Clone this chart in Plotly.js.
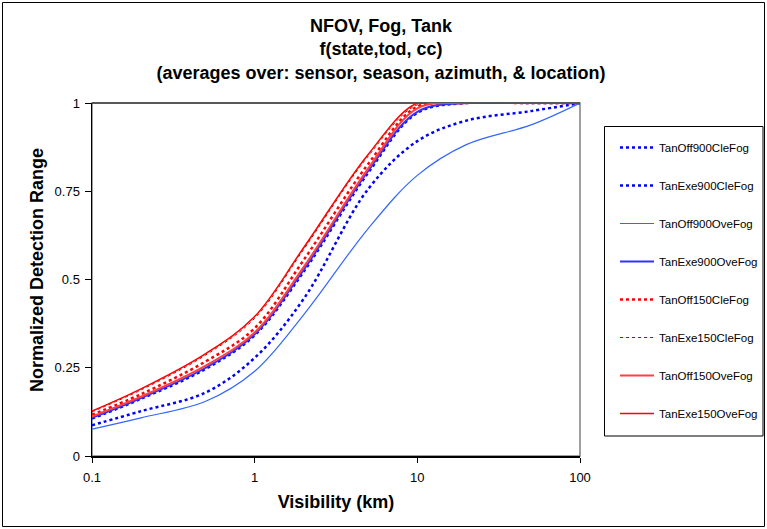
<!DOCTYPE html>
<html>
<head>
<meta charset="utf-8">
<script src="https://cdn.plot.ly/plotly-3.0.1.min.js"></script>
<style>html,body{margin:0;padding:0;background:#fff;}#chart{width:767px;height:529px;}</style>
</head>
<body>
<div id="chart"></div>
<script>
// Visibility (km)
const visibility = [0.1, 0.2, 0.5, 1, 2, 5, 10, 20, 50, 100];

// Normalized detection range per series
const tanOff900CleFog = [0.087, 0.127, 0.180, 0.278, 0.445, 0.757, 0.892, 0.950, 0.977, 1];
const tanExe900CleFog = [0.106, 0.162, 0.247, 0.342, 0.522, 0.803, 0.972, 1, 1, 1];
const tanOff900OveFog = [0.076, 0.108, 0.155, 0.240, 0.400, 0.645, 0.795, 0.882, 0.938, 1];
const tanExe900OveFog = [0.108, 0.164, 0.250, 0.345, 0.527, 0.808, 0.975, 1, 1, 1];
const tanOff150CleFog = [0.117, 0.175, 0.268, 0.362, 0.555, 0.828, 0.990, 1, 1, 1];
const tanExe150CleFog = [0.125, 0.187, 0.286, 0.390, 0.585, 0.850, 0.995, 1, 1, 1];
const tanOff150OveFog = [0.112, 0.168, 0.256, 0.350, 0.535, 0.815, 0.985, 1, 1, 1];
const tanExe150OveFog = [0.127, 0.190, 0.290, 0.395, 0.590, 0.855, 1, 1, 1, 1];

const seriesNames = ["TanOff900CleFog","TanExe900CleFog","TanOff900OveFog","TanExe900OveFog",
                     "TanOff150CleFog","TanExe150CleFog","TanOff150OveFog","TanExe150OveFog"];
const seriesValues = [tanOff900CleFog, tanExe900CleFog, tanOff900OveFog, tanExe900OveFog,
                      tanOff150CleFog, tanExe150CleFog, tanOff150OveFog, tanExe150OveFog];

const xTickVals = [0.1, 1, 10, 100];
const xTickText = ["0.1", "1", "10", "100"];
const yTickVals = [0, 0.25, 0.5, 0.75, 1];
const yTickText = ["0", "0.25", "0.5", "0.75", "1"];

const styles = [
  {color:"#0000FF", width:2.5, dash:"dot"},
  {color:"#0000FF", width:2.5, dash:"dot"},
  {color:"#3366FF", width:1.2, dash:"solid"},
  {color:"#3333FF", width:2, dash:"solid"},
  {color:"#FF0000", width:2.5, dash:"dot"},
  {color:"#C00000", width:1, dash:"3px,3px"},
  {color:"#FF4040", width:2, dash:"solid"},
  {color:"#FF0000", width:1.5, dash:"solid"}
];

const traces = seriesNames.map((name, i) => ({
  type: "scatter",
  mode: "lines",
  name: name,
  legendgroup: "g" + i,
  x: visibility,
  y: seriesValues[i],
  line: Object.assign({shape: "spline", smoothing: 1}, styles[i])
}));

const L = 92, R = 580, T = 103, B = 456, W = 767, H = 529;
const px = p => (p - L) / (R - L);
const py = p => (B - p) / (B - T);
const FONT = "Arial, 'Liberation Sans', sans-serif";

const layout = {
  width: W, height: H,
  margin: {l: L, r: W - R, t: T, b: H - B, pad: 0, autoexpand: false},
  paper_bgcolor: "#ffffff",
  plot_bgcolor: "#ffffff",
  font: {family: FONT, color: "#000", size: 13},
  title: {
    text: "<b>NFOV, Fog, Tank<br>f(state,tod, cc)<br>(averages over: sensor, season, azimuth, & location)</b>",
    font: {size: 18, family: FONT, color: "#000"},
    x: 381 / W, xref: "container", xanchor: "center",
    y: 1 - 32 / H, yref: "container", yanchor: "top"
  },
  xaxis: {
    type: "log",
    range: [-1, 2],
    tickvals: xTickVals, ticktext: xTickText,
    ticks: "outside", ticklen: 5, tickcolor: "#000", tickwidth: 1,
    ticklabelstandoff: 4,
    showline: true, linecolor: "#000", linewidth: 1.5,
    showgrid: false, zeroline: false,
    tickfont: {size: 13},
    title: {text: "<b>Visibility (km)</b>", font: {size: 18}, standoff: 11}
  },
  yaxis: {
    range: [0, 1],
    tickvals: yTickVals, ticktext: yTickText,
    ticks: "outside", ticklen: 6, tickcolor: "#000", tickwidth: 1,
    ticklabelstandoff: 2,
    showline: true, linecolor: "#000", linewidth: 1.5,
    showgrid: false, zeroline: false,
    tickfont: {size: 13}
  },
  annotations: [
    {text: "<b>Normalized Detection Range</b>", xref: "paper", yref: "paper",
     x: px(37), y: py(270), textangle: -90, showarrow: false,
     xanchor: "center", yanchor: "middle", font: {size: 18, family: FONT, color: "#000"}}
  ],
  legend: {
    x: px(615), y: py(133), xanchor: "left", yanchor: "top",
    borderwidth: 0, bgcolor: "rgba(0,0,0,0)",
    font: {size: 11.5},
    itemwidth: 34,
    tracegroupgap: 19
  },
  shapes: [
    {type: "rect", xref: "paper", yref: "paper", x0: 0, x1: 1, y0: 0, y1: 1,
     line: {color: "#808080", width: 1.5}, layer: "below"},
    {type: "line", xref: "paper", yref: "paper", x0: 0, x1: 1, y0: 1, y1: 1,
     line: {color: "#404040", width: 1.5}, layer: "below"},
    {type: "rect", xref: "paper", yref: "paper", x0: px(2.5), x1: px(764.5), y0: py(526.5), y1: py(2.5),
     line: {color: "#000", width: 1}},
    {type: "rect", xref: "paper", yref: "paper", x0: px(604.5), x1: px(763), y0: py(436), y1: py(126.5),
     line: {color: "#000", width: 1}}
  ]
};

Plotly.newPlot("chart", traces, layout, {displayModeBar: false, staticPlot: true});
</script>
</body>
</html>
